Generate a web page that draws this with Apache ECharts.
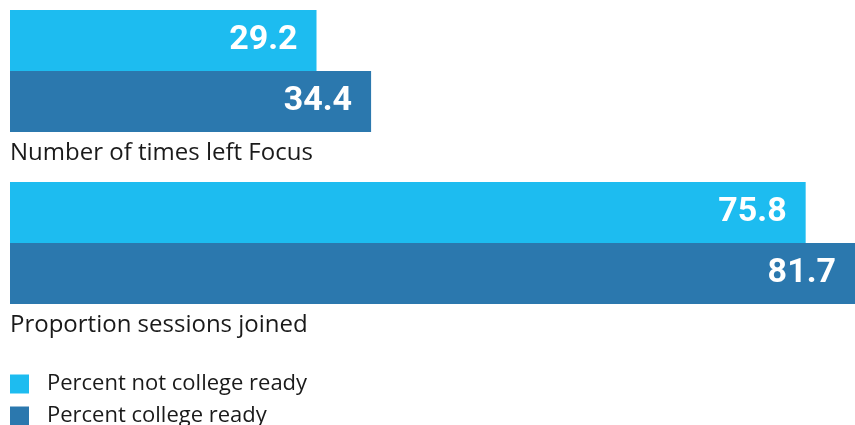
<!DOCTYPE html>
<html>
<head>
<meta charset="utf-8">
<script src="https://cdn.jsdelivr.net/npm/echarts@6/dist/echarts.min.js"></script>
<style>
  html, body { margin: 0; padding: 0; background: #fff; }
  #chart { width: 855px; height: 425px; }
</style>
</head>
<body>
<div id="chart"></div>
<script>
const categories = ['Number of times left Focus', 'Proportion sessions joined'];
const seriesNames = ['Percent not college ready', 'Percent college ready'];
const notReady = [29.2, 75.8];
const ready = [34.4, 81.7];

const colors = ['#1dbcf0', '#2b78ae'];

const chart = echarts.init(document.getElementById('chart'));

const valueLabel = {
  show: true,
  position: 'insideRight',
  distance: 19,
  color: '#fff',
  fontFamily: 'Roboto, sans-serif',
  fontWeight: 'bold',
  fontSize: 34,
  formatter: p => p.value.toFixed(1)
};

chart.setOption({
  animation: false,
  textStyle: { fontFamily: "'Open Sans', sans-serif" },
  grid: { left: 10, right: 0, top: -15, bottom: 96, outerBoundsMode: 'none', containLabel: false },
  legend: {
    orient: 'vertical',
    left: 10,
    top: 373,
    height: 80,
    padding: 0,
    itemWidth: 19,
    itemHeight: 19,
    itemGap: 10,
    icon: 'rect',
    textStyle: { fontSize: 22, lineHeight: 19, color: '#1a1a1a', padding: [0, 0, 0, 13] },
    data: seriesNames
  },
  xAxis: {
    type: 'value',
    min: 0,
    max: 80.5,
    show: false
  },
  yAxis: {
    type: 'category',
    inverse: true,
    data: categories,
    axisLine: { show: false },
    axisTick: { show: false },
    axisLabel: {
      inside: true,
      margin: 0,
      align: 'left',
      verticalAlign: 'top',
      padding: [70, 0, 0, 0],
      lineHeight: 24,
      fontSize: 24,
      color: '#1a1a1a'
    }
  },
  series: [
    {
      name: seriesNames[0],
      type: 'bar',
      data: notReady,
      barGap: '0%',
      barCategoryGap: '29%',
      itemStyle: { color: colors[0] },
      label: valueLabel
    },
    {
      name: seriesNames[1],
      type: 'bar',
      data: ready,
      itemStyle: { color: colors[1] },
      label: valueLabel
    }
  ]
});
</script>
</body>
</html>
